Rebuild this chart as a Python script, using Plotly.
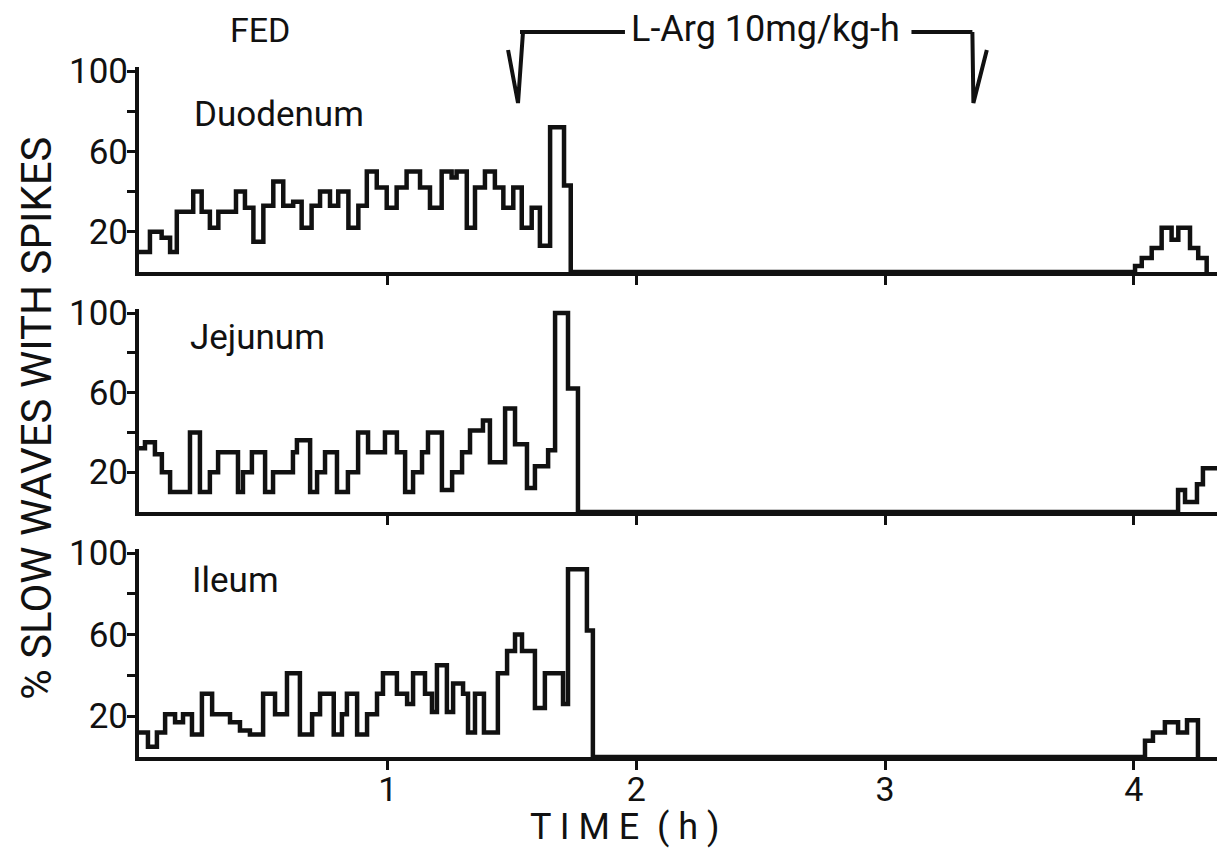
import plotly.graph_objects as go

# ---------------- data (time in hours, % slow waves with spikes) ----------------
duo_t = [0.000, 0.044, 0.091, 0.125, 0.152, 0.218, 0.252, 0.285, 0.319, 0.390,
         0.426, 0.460, 0.500, 0.540, 0.580, 0.620, 0.654, 0.694, 0.728, 0.768,
         0.801, 0.842, 0.882, 0.916, 0.956, 0.996, 1.036, 1.076, 1.130, 1.170,
         1.217, 1.257, 1.277, 1.318, 1.351, 1.391, 1.431, 1.465, 1.505, 1.539,
         1.579, 1.612, 1.653, 1.709]
duo_v = [10, 20, 17, 10, 30, 40, 30, 22, 30, 40,
         32, 15, 33, 45, 33, 35, 22, 33, 40, 33,
         40, 22, 33, 50, 42, 32, 42, 50, 42, 32,
         50, 47, 50, 22, 42, 50, 42, 32, 42, 22,
         32, 13, 72, 43]
duo_end = 1.736
duo_late_t = [4.005, 4.032, 4.072, 4.112, 4.152, 4.179, 4.226, 4.259]
duo_late_v = [3, 7, 12, 22, 16, 22, 12, 7]
duo_late_end = 4.293

jej_t = [0.000, 0.024, 0.064, 0.092, 0.125, 0.205, 0.245, 0.285, 0.318, 0.398,
         0.418, 0.454, 0.507, 0.539, 0.619, 0.635, 0.688, 0.716, 0.748, 0.796,
         0.840, 0.881, 0.921, 0.989, 1.037, 1.070, 1.102, 1.138, 1.162, 1.218,
         1.259, 1.299, 1.331, 1.383, 1.411, 1.472, 1.512, 1.560, 1.592, 1.645,
         1.673, 1.725]
jej_v = [32, 35, 29, 20, 10, 40, 10, 20, 30, 10,
         20, 30, 10, 20, 30, 36, 10, 20, 30, 10,
         20, 40, 30, 40, 30, 10, 20, 30, 40, 11,
         20, 30, 41, 46, 25, 52, 34, 12, 23, 31,
         100, 62]
jej_end = 1.765
jej_late_t = [4.178, 4.206, 4.254, 4.278]
jej_late_v = [11, 5, 14, 22]
jej_late_end = 4.338

ile_t = [0.000, 0.036, 0.072, 0.105, 0.145, 0.177, 0.213, 0.253, 0.294, 0.366,
         0.406, 0.446, 0.499, 0.547, 0.595, 0.647, 0.696, 0.728, 0.783, 0.816,
         0.836, 0.877, 0.917, 0.957, 0.981, 1.037, 1.078, 1.102, 1.150, 1.178,
         1.198, 1.238, 1.263, 1.303, 1.323, 1.351, 1.387, 1.443, 1.480, 1.512,
         1.540, 1.592, 1.632, 1.705, 1.725, 1.801]
ile_v = [12, 5, 12, 21, 17, 21, 11, 31, 21, 17,
         13, 11, 31, 21, 41, 11, 21, 31, 11, 21,
         31, 11, 21, 31, 41, 31, 26, 41, 31, 22,
         45, 22, 36, 31, 12, 31, 12, 41, 52, 60,
         52, 24, 41, 26, 92, 62]
ile_end = 1.825
ile_late_t = [4.045, 4.077, 4.125, 4.178, 4.214]
ile_late_v = [8, 12, 17, 12, 18]
ile_late_end = 4.258

panel_names = ["Duodenum", "Jejunum", "Ileum"]
x_ticks = [1, 2, 3, 4]
y_ticks = [20, 40, 60, 80, 100]
y_ticktext = ["20", "", "60", "", "100"]
larg_start, larg_end = 1.524, 3.351
larg_label = "L-Arg 10mg/kg-h"

# ---------------- geometry (reference pixel positions; page body has 8px margin) ----------------
W, H = 1225, 862
OFF = 8
X0_PX, PX_PER_H = 139, 248.7
X_MAX = 4.34
Y_TOP = 102
panels_px = [(272, 71), (512, 313), (757, 553)]  # (y px of 0, y px of 100)
FONT = "Roboto"
INK = "#111111"


def fx(px):
    return (px - OFF) / W


def fy(px):
    return 1 - (px - OFF) / H


def step_xy(t, v, end, late_t, late_v, late_end, late_end_val=0):
    xs = list(t) + [end] + list(late_t) + [late_end]
    ys = list(v) + [0] + list(late_v) + [late_end_val]
    return xs, ys


series = [
    step_xy(duo_t, duo_v, duo_end, duo_late_t, duo_late_v, duo_late_end),
    step_xy(jej_t, jej_v, jej_end, jej_late_t, jej_late_v, jej_late_end, jej_late_v[-1]),
    step_xy(ile_t, ile_v, ile_end, ile_late_t, ile_late_v, ile_late_end),
]

fig = go.Figure()
layout = dict(
    width=W, height=H, margin=dict(l=0, r=0, t=0, b=0),
    paper_bgcolor="white", plot_bgcolor="white", showlegend=False,
    font=dict(family=FONT, color=INK),
)

xdom = [fx(X0_PX), fx(X0_PX + X_MAX * PX_PER_H)]
for i, ((xs, ys), (p0, p100)) in enumerate(zip(series, panels_px)):
    n = "" if i == 0 else str(i + 1)
    fig.add_trace(go.Scatter(x=xs, y=ys, mode="lines", line=dict(shape="hv", color=INK, width=4.5),
                             xaxis="x" + n, yaxis="y" + n, hoverinfo="skip"))
    ptop = p0 - (p0 - p100) * Y_TOP / 100
    layout["xaxis" + n] = dict(
        domain=xdom, range=[0, X_MAX], anchor="y" + n,
        showline=True, linewidth=4, linecolor=INK, showgrid=False, zeroline=False,
        ticks="outside", ticklen=9, tickwidth=3, tickcolor=INK,
        tickvals=x_ticks, showticklabels=(i == 2), ticklabelstandoff=-10,
        tickfont=dict(family=FONT, size=34, color=INK), automargin=False,
    )
    layout["yaxis" + n] = dict(
        domain=[fy(p0), fy(ptop)], range=[0, Y_TOP], anchor="x" + n,
        showline=True, linewidth=4, linecolor=INK, showgrid=False, zeroline=False,
        ticks="outside", ticklen=8, tickwidth=3, tickcolor=INK,
        tickvals=y_ticks, ticktext=y_ticktext, ticklabelstandoff=-8,
        tickfont=dict(family=FONT, size=35, color=INK), automargin=False,
    )

fig.update_layout(**layout)

ann = []
name_pos = [(192, 115), (188, 337), (190, 580)]
for name, (xp, yp) in zip(panel_names, name_pos):
    ann.append(dict(text=name, x=fx(xp), y=fy(yp), xref="paper", yref="paper",
                    xanchor="left", yanchor="middle", showarrow=False,
                    font=dict(family=FONT, size=35, color=INK)))
ann.append(dict(text="FED", x=fx(228), y=fy(30), xref="paper", yref="paper",
                xanchor="left", yanchor="middle", showarrow=False,
                font=dict(family=FONT, size=34, color=INK)))
ann.append(dict(text="T I M E  ( h )", x=fx(625), y=fy(827), xref="paper", yref="paper",
                xanchor="center", yanchor="middle", showarrow=False,
                font=dict(family=FONT, size=36, color=INK)))
ann.append(dict(text="% SLOW WAVES WITH SPIKES", x=fx(36), y=fy(418), xref="paper", yref="paper",
                xanchor="center", yanchor="middle", showarrow=False, textangle=-90,
                font=dict(family=FONT, size=42, color=INK)))
ann.append(dict(text=larg_label, x=(larg_start + larg_end) / 2 + 0.083, y=fy(29), xref="x", yref="paper",
                xanchor="center", yanchor="middle", showarrow=False,
                font=dict(family=FONT, size=36, color=INK)))
fig.update_layout(annotations=ann)

ytop, ytip, yslant = fy(32), fy(103), fy(50)
shapes = [
    dict(type="line", xref="x", yref="paper", x0=larg_start + 0.008, x1=larg_start + 0.43,
         y0=ytop, y1=ytop, line=dict(color=INK, width=4)),
    dict(type="line", xref="x", yref="paper", x0=larg_end - 0.245, x1=larg_end,
         y0=ytop, y1=ytop, line=dict(color=INK, width=4)),
    dict(type="path", xref="x", yref="paper",
         path=f"M {larg_start - 0.040},{yslant} L {larg_start},{ytip} L {larg_start + 0.020},{ytop}",
         line=dict(color=INK, width=4)),
    dict(type="path", xref="x", yref="paper",
         path=f"M {larg_end},{ytop} L {larg_end + 0.004},{ytip} L {larg_end + 0.058},{yslant}",
         line=dict(color=INK, width=4)),
]
fig.update_layout(shapes=shapes)

fig.write_html("out.html")
